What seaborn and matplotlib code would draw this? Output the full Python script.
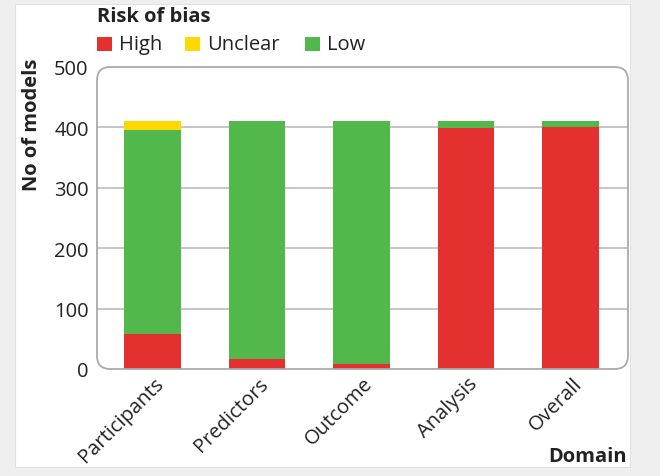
import matplotlib
matplotlib.use("Agg")
import matplotlib.pyplot as plt
from matplotlib.patches import FancyBboxPatch, Rectangle
import matplotlib.transforms as mtrans
import seaborn as sns
import pandas as pd

domains = ["Participants", "Predictors", "Outcome", "Analysis", "Overall"]
high = [58, 16, 8, 399, 400]
unclear = [14, 0, 0, 0, 0]
low = [338, 394, 402, 11, 10]
yticks = [0, 100, 200, 300, 400, 500]

RED = "#e4302f"
YEL = "#ffd800"
GRN = "#52b84c"
FS = 14.5

sns.set_theme(style="white")
plt.rcParams["font.family"] = ["Open Sans", "DejaVu Sans"]

fig = plt.figure(figsize=(6.6, 4.77), dpi=100)
fig.patch.set_facecolor("#efefef")
bg = Rectangle((15 / 660, 1 - 468 / 477), (630 - 15) / 660, (468 - 5) / 477,
               transform=fig.transFigure, facecolor="white", edgecolor="#e2e2e2",
               lw=0.8, zorder=-10)
fig.patches.append(bg)

ax = fig.add_axes([97 / 660, 1 - 370 / 477, (628 - 97) / 660, (370 - 68) / 477])
ax.set_zorder(1)
ax.set_facecolor("none")

df = pd.DataFrame({"Domain": domains, "High": high, "Unclear": unclear, "Low": low})
df["top_unclear"] = df["High"] + df["Low"] + df["Unclear"]
df["top_low"] = df["High"] + df["Low"]

w = 0.54
sns.barplot(data=df, x="Domain", y="top_unclear", color=YEL, width=w, saturation=1, ax=ax, zorder=3)
sns.barplot(data=df, x="Domain", y="top_low", color=GRN, width=w, saturation=1, ax=ax, zorder=3)
sns.barplot(data=df, x="Domain", y="High", color=RED, width=w, saturation=1, ax=ax, zorder=3)
for p in ax.patches:
    p.set_edgecolor("none")

ax.set_xlim(-0.53, 4.55)
ax.set_ylim(0, 500)
ax.set_yticks(yticks)
ax.set_yticklabels([str(t) for t in yticks], fontsize=FS, color="#222222")
ax.tick_params(axis="y", length=0, pad=6)
ax.tick_params(axis="x", length=0, pad=3)
ax.set_xticks(range(len(domains)))
ax.set_xticklabels(domains, rotation=45, ha="right", va="top", rotation_mode="anchor",
                   fontsize=FS, color="#222222")
offset = mtrans.ScaledTranslation(1 / 72, 0, fig.dpi_scale_trans)
for lab in ax.get_xticklabels():
    lab.set_transform(lab.get_transform() + offset)

for y in [100, 200, 300, 400]:
    ax.axhline(y, color="#b5b5b5", lw=1.1, zorder=1)

for s in ax.spines.values():
    s.set_visible(False)
frame = FancyBboxPatch((0, 0), 1, 1, boxstyle="round,pad=0,rounding_size=0.025",
                       transform=ax.transAxes, facecolor="none", edgecolor="#aaaaaa",
                       lw=1.3, zorder=4, clip_on=False, mutation_aspect=531 / 302)
ax.add_patch(frame)

ax.set_xlabel("")
ax.set_ylabel("")
fig.text(32 / 660, 1 - 125 / 477, "No of models", rotation=90, ha="center", va="center",
         fontsize=FS, fontweight="bold", color="#222222")
fig.text(627 / 660, 1 - 457 / 477, "Domain", ha="right", va="center",
         fontsize=FS, fontweight="bold", color="#222222")

fig.text(97 / 660, 1 - 17 / 477, "Risk of bias", ha="left", va="center",
         fontsize=FS, fontweight="bold", color="#222222")
items = [("High", RED, 97), ("Unclear", YEL, 185), ("Low", GRN, 305)]
for name, col, x in items:
    fig.patches.append(Rectangle((x / 660, 1 - 52 / 477), 15 / 660, 14 / 477,
                                 transform=fig.transFigure, facecolor=col, edgecolor="none"))
    fig.text((x + 22) / 660, 1 - 45 / 477, name, ha="left", va="center",
             fontsize=FS, color="#222222")

fig.savefig("out.png", dpi=100, facecolor=fig.get_facecolor())
